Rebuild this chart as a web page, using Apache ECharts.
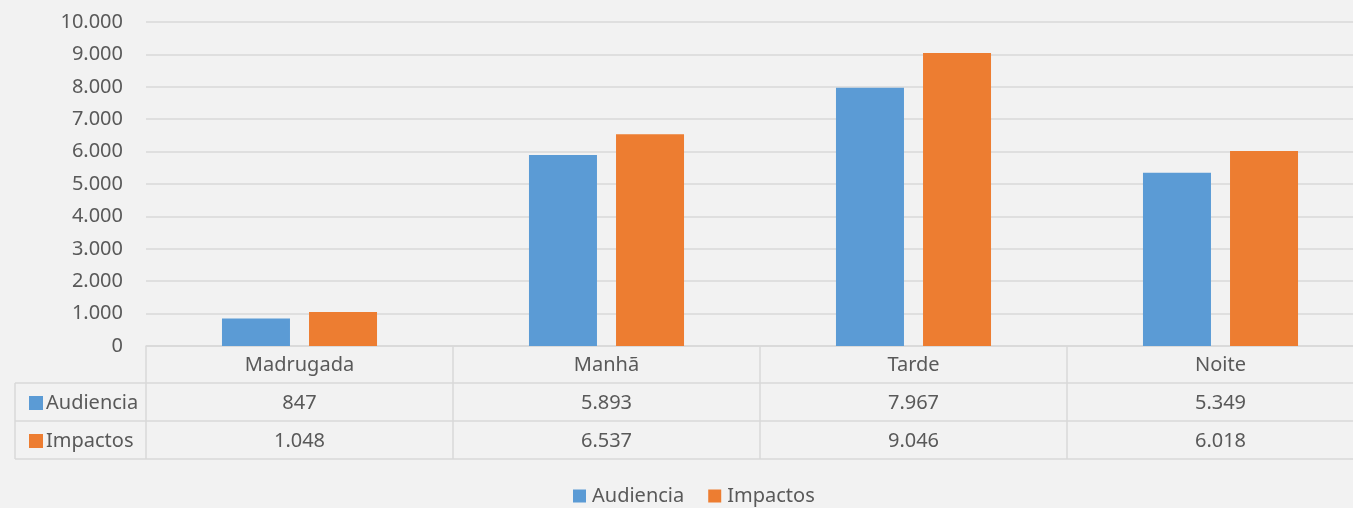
<!DOCTYPE html>
<html>
<head>
<meta charset="utf-8">
<script src="https://cdn.jsdelivr.net/npm/echarts@6/dist/echarts.min.js"></script>
<style>
  html, body { margin: 0; padding: 0; background: #f2f2f2; }
  #chart { width: 1353px; height: 508px; }
</style>
</head>
<body>
<div id="chart"></div>
<script>
const categories = ['Madrugada', 'Manhã', 'Tarde', 'Noite']
const audiencia = [847, 5893, 7967, 5349]
const impactos = [1048, 6537, 9046, 6018]
const seriesNames = ['Audiencia', 'Impactos']

const font = 'Noto Sans'
const txt = '#595959'
const line = '#d9d9d9'

// 1.000 style thousands
const fmt = v => String(v).replace(/\B(?=(\d{3})+(?!\d))/g, '.')

const chart = echarts.init(document.getElementById('chart'))

const gridLeft = 146
const gridTop = 22
const gridH = 324
const rowH = 38

function tableAxis (data, offset, tickLen, margin) {
  return {
    type: 'category',
    data: data,
    position: 'bottom',
    offset: offset,
    axisLine: { show: true, lineStyle: { color: line, width: 1.5 } },
    axisTick: { show: true, length: tickLen, lineStyle: { color: line, width: 1.5 } },
    axisLabel: { color: txt, fontFamily: font, fontSize: 20, margin: margin, lineHeight: 20 },
    splitLine: { show: false }
  }
}

// row key of the data table, one legend per row
function rowKey (name, top) {
  return {
    data: [name],
    left: 24,
    top: top,
    itemWidth: 14,
    itemHeight: 14,
    icon: 'rect',
    selectedMode: false,
    textStyle: { color: txt, fontSize: 20, fontFamily: font, padding: [0, 0, 0, -2] }
  }
}

chart.setOption({
  backgroundColor: '#f2f2f2',
  animation: false,
  textStyle: { fontFamily: font },
  grid: { left: gridLeft, top: gridTop, right: -21, height: gridH, outerBoundsMode: 'none' },
  legend: [
    {
      data: seriesNames,
      left: 568,
      top: 481,
      itemWidth: 13,
      itemHeight: 13,
      itemGap: 24,
      icon: 'rect',
      textStyle: { color: txt, fontSize: 20, fontFamily: font, padding: [0, 0, 0, 1] }
    },
    rowKey(seriesNames[0], 388),
    rowKey(seriesNames[1], 388 + rowH)
  ],
  xAxis: [
    tableAxis(categories, 0, rowH - 1, 9),
    tableAxis(audiencia.map(fmt), rowH - 1, rowH, 10),
    tableAxis(impactos.map(fmt), 2 * rowH - 1, rowH, 10)
  ],
  yAxis: {
    type: 'value',
    min: 0,
    max: 10000,
    interval: 1000,
    axisLine: { show: false },
    axisTick: { show: false },
    axisLabel: { color: txt, fontFamily: font, fontSize: 20, margin: 23, formatter: fmt },
    splitLine: { lineStyle: { color: line, width: 1.5 } }
  },
  series: [
    {
      name: seriesNames[0],
      type: 'bar',
      xAxisIndex: 0,
      data: audiencia,
      barWidth: 68,
      barGap: '28%',
      itemStyle: { color: '#5b9bd5' }
    },
    {
      name: seriesNames[1],
      type: 'bar',
      xAxisIndex: 0,
      data: impactos,
      barWidth: 68,
      barGap: '28%',
      itemStyle: { color: '#ed7d31' }
    }
  ],
  graphic: [
    { type: 'line', shape: { x1: 15, y1: 383, x2: gridLeft, y2: 383 }, style: { stroke: line, lineWidth: 1.5 } },
    { type: 'line', shape: { x1: 15, y1: 421, x2: gridLeft, y2: 421 }, style: { stroke: line, lineWidth: 1.5 } },
    { type: 'line', shape: { x1: 15, y1: 459, x2: 1353, y2: 459 }, style: { stroke: line, lineWidth: 1.5 } },
    { type: 'line', shape: { x1: 15, y1: 383, x2: 15, y2: 459 }, style: { stroke: line, lineWidth: 1.5 } }
  ]
})
</script>
</body>
</html>
